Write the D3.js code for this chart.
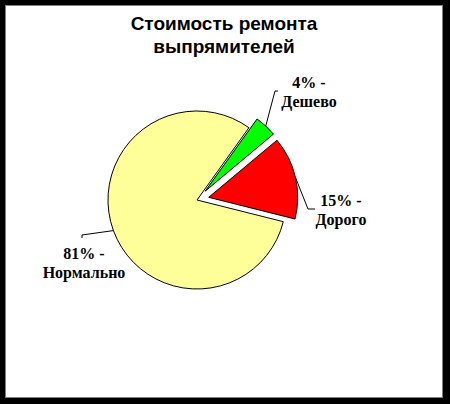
<!DOCTYPE html>
<html><head><meta charset="utf-8">
<script src="https://cdn.jsdelivr.net/npm/d3@7"></script>
<style>html,body{margin:0;padding:0;background:#fff;}svg{display:block;}</style>
</head><body>
<svg id="chart" width="450" height="404"></svg>
<script>
const titleLines = ["Стоимость ремонта", "выпрямителей"];
const categories = ["Дешево", "Дорого", "Нормально"];
const values = [4, 15, 81];
const percentLabels = ["4%", "15%", "81%"];
const colors = ["#00ff00", "#ff0000", "#ffff99"];
const exploded = [true, true, false];

const svg = d3.select("#chart");
const W = 450, H = 404;

// frame
svg.append("rect").attr("x", 0).attr("y", 0).attr("width", W).attr("height", H).attr("fill", "#000");
svg.append("rect").attr("x", 5.5).attr("y", 5.5).attr("width", 437).attr("height", 392)
  .attr("fill", "#fff").attr("stroke", "#808080").attr("stroke-width", 1);

// title
svg.append("text").attr("x", 224).attr("y", 30).attr("text-anchor", "middle")
  .attr("font-family", "Liberation Sans, Arial, sans-serif").attr("font-weight", "bold").attr("font-size", 19)
  .selectAll("tspan").data(titleLines).join("tspan")
  .attr("x", 224).attr("dy", (d, i) => i === 0 ? 0 : 23).text(d => d);

const cx = 197, cy = 200, R = 89, explode = 12;
const deg = Math.PI / 180;
const data = categories.map((c, i) => ({cat: c, value: values[i], pct: percentLabels[i], color: colors[i], ex: exploded[i]}));
const pie = d3.pie().sort(null).value(d => d.value).startAngle(35.7 * deg).endAngle(395.7 * deg);
const arcs = pie(data);
const arc = d3.arc().innerRadius(0).outerRadius(R);

const g = svg.append("g").attr("transform", `translate(${cx},${cy})`);
arcs.forEach(a => {
  const mid = (a.startAngle + a.endAngle) / 2;
  a.mid = mid;
  a.off = a.data.ex ? [Math.sin(mid) * explode, -Math.cos(mid) * explode] : [0, 0];
});
g.selectAll("path.slice").data(arcs).join("path").attr("class", "slice")
  .attr("transform", d => `translate(${d.off[0]},${d.off[1]})`)
  .attr("d", arc).attr("fill", d => d.data.color)
  .attr("stroke", "#000").attr("stroke-width", 1).attr("stroke-linejoin", "miter");

// label layout (relative to pie center): elbow point, end point, text center, first baseline
const labelLayout = {
  "Дешево":    {elbow: [78, -109], end: [81, -109], tx: 112, ty: -112},
  "Дорого":    {elbow: [111, 9],   end: [118, 9],   tx: 144, ty: 6},
  "Нормально": {elbow: [-115, 35], end: [-115, 38], tx: -113, ty: 59}
};

arcs.forEach(a => {
  const L = labelLayout[a.data.cat];
  const sx = a.off[0] + Math.sin(a.mid) * R, sy = a.off[1] - Math.cos(a.mid) * R;
  g.append("path").attr("d", d3.line()([[sx, sy], L.elbow, L.end]))
    .attr("fill", "none").attr("stroke", "#000").attr("stroke-width", 1);
  const t = g.append("text").attr("text-anchor", "middle")
    .attr("font-family", "Liberation Serif, Times New Roman, serif").attr("font-weight", "bold").attr("font-size", 16);
  t.append("tspan").attr("x", L.tx).attr("y", L.ty).text(a.data.pct + " -");
  t.append("tspan").attr("x", L.tx).attr("y", L.ty + 19).text(a.data.cat);
});
</script>
</body></html>
